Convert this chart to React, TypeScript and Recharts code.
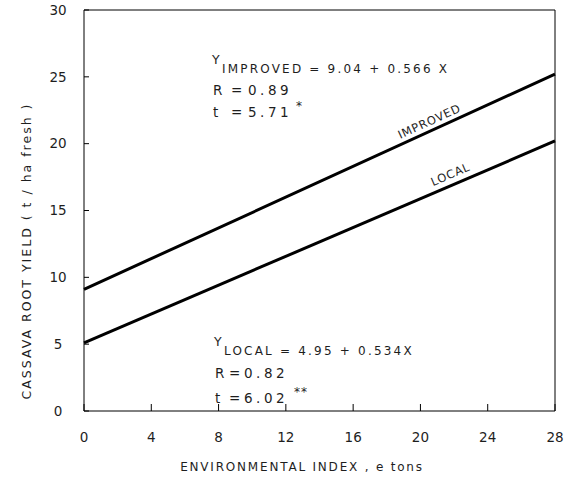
import React from "react";
import {
  LineChart,
  Line,
  XAxis,
  YAxis,
  ReferenceLine,
  Customized,
} from "recharts";

// Environmental index (x) at the two ends of each fitted line
const indexValues = [0, 28];
// Fitted yields (t/ha fresh)
const improvedYield = [9.1, 25.2];
const localYield = [5.1, 20.2];

const xTicks = [0, 4, 8, 12, 16, 20, 24, 28];
const yTicks = [0, 5, 10, 15, 20, 25, 30];

const data = indexValues.map((x, i) => ({
  x,
  improved: improvedYield[i],
  local: localYield[i],
}));

const font = "'DejaVu Sans', Verdana, sans-serif";
const ink = "#1e1e1e";

// Equations, line names and axis titles
const Annotations = () => (
  <g fontFamily={font} fill={ink}>
    {/* improved equation block */}
    <text x={212} y={64} fontSize={12.5}>Y</text>
    <text x={222} y={73} fontSize={12} letterSpacing={2.2}>
      IMPROVED = 9.04 + 0.566 X
    </text>
    <g fontSize={13.5} letterSpacing={3.5}>
      <text x={213} y={95}>R</text>
      <text x={231} y={95}>=</text>
      <text x={248} y={95}>0.89</text>
      <text x={213} y={117}>t</text>
      <text x={231} y={117}>=</text>
      <text x={248} y={117}>5.71</text>
      <text x={296} y={110} fontSize={12} letterSpacing={0}>*</text>
    </g>

    {/* local equation block */}
    <text x={214} y={346} fontSize={12.5}>Y</text>
    <text x={224} y={355} fontSize={12} letterSpacing={2.2}>
      LOCAL = 4.95 + 0.534X
    </text>
    <g fontSize={13.5} letterSpacing={3.5}>
      <text x={215} y={378}>R</text>
      <text x={229} y={378}>=</text>
      <text x={244} y={378}>0.82</text>
      <text x={215} y={403}>t</text>
      <text x={229} y={403}>=</text>
      <text x={244} y={403}>6.02</text>
      <text x={294} y={396} fontSize={12} letterSpacing={1}>**</text>
    </g>

    {/* line names */}
    <text
      x={431}
      y={125}
      fontSize={11.5}
      letterSpacing={0.8}
      textAnchor="middle"
      transform="rotate(-24.6 431 125)"
    >
      IMPROVED
    </text>
    <text
      x={452}
      y={178}
      fontSize={11.5}
      letterSpacing={0.8}
      textAnchor="middle"
      transform="rotate(-23.2 452 178)"
    >
      LOCAL
    </text>

    {/* axis titles */}
    <text
      x={31}
      y={251}
      fontSize={12.5}
      letterSpacing={2}
      textAnchor="middle"
      transform="rotate(-90 31 251)"
    >
      CASSAVA ROOT YIELD ( t / ha fresh )
    </text>
    <text x={302} y={471} fontSize={12} letterSpacing={1.8} textAnchor="middle">
      ENVIRONMENTAL INDEX , e tons
    </text>
  </g>
);

const App = () => {
  return (
    <div style={{ position: "absolute", left: 0, top: 0, background: "#fff" }}>
      <LineChart
        width={571}
        height={481}
        data={data}
        margin={{ top: 10, right: 16, bottom: 40, left: 0 }}
      >
        <XAxis
          dataKey="x"
          type="number"
          domain={[0, 28]}
          ticks={xTicks}
          tickSize={-7}
          tickMargin={28}
          axisLine={{ stroke: "#000" }}
          tickLine={{ stroke: "#000" }}
          tick={{ fill: ink, fontSize: 13.5, fontFamily: font }}
        />
        <YAxis
          type="number"
          domain={[0, 30]}
          ticks={yTicks}
          width={84}
          tickSize={-5}
          tickMargin={31}
          axisLine={{ stroke: "#000" }}
          tickLine={{ stroke: "#000" }}
          tick={{
            fill: ink,
            fontSize: 13.5,
            fontFamily: font,
            textAnchor: "middle",
          }}
        />
        <ReferenceLine y={30} stroke="#000" />
        <ReferenceLine x={28} stroke="#000" />
        <Line
          type="linear"
          dataKey="improved"
          stroke="#000"
          strokeWidth={3}
          dot={false}
          isAnimationActive={false}
        />
        <Line
          type="linear"
          dataKey="local"
          stroke="#000"
          strokeWidth={3}
          dot={false}
          isAnimationActive={false}
        />
        <Customized component={<Annotations />} />
      </LineChart>
    </div>
  );
};

export default App;
